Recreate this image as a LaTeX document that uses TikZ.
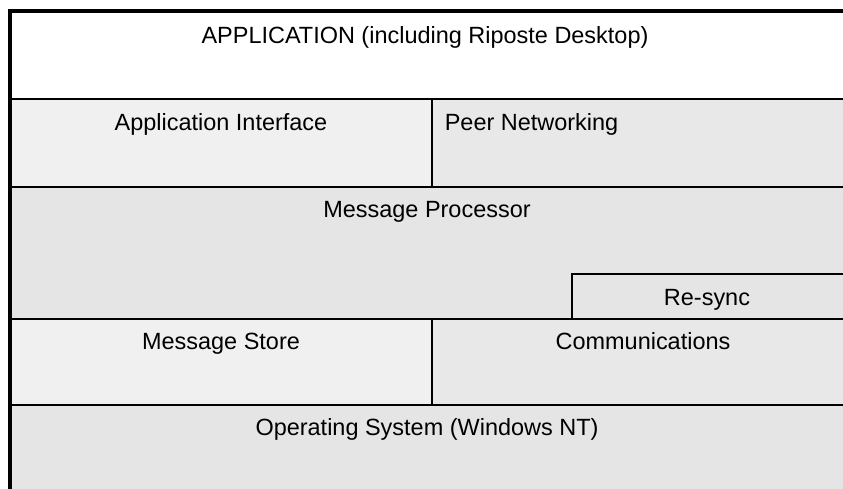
\documentclass[tikz,border=0pt]{standalone}
\usepackage{fontspec}
\setmainfont{Liberation Sans}
\usetikzlibrary{positioning}
\tikzset{
    every picture/.style={line width=1.2pt},
    layer/.style={draw=black,fill=black!10},
    plain/.style={draw=black,fill=white},
    chequer/.style={draw=black,fill=black!6},
    speckle/.style={draw=black,fill=black!9},
    lbl/.style={anchor=base,inner sep=0pt,font=\fontsize{17.6}{20}\selectfont}
}

\begin{document}
\begin{tikzpicture}[x=0.75pt,y=-0.75pt]
    \useasboundingbox (0,0) rectangle (843,489);
    \clip (0,0) rectangle (843,489);

    % layers, top to bottom
    \draw[plain] (10,11) rectangle (870,99);
    \draw[chequer] (10,99) rectangle (432,187);
    \draw[speckle] (432,99) rectangle (870,187);
    \draw[layer] (10,187) rectangle (870,319);
    \draw[layer] (572,274) rectangle (870,319);
    \draw[chequer] (10,319) rectangle (432,405);
    \draw[speckle] (432,319) rectangle (870,405);
    \draw[layer] (10,405) rectangle (870,510);

    % heavier outer frame
    \draw[line width=2.4pt] (10,510) -- (10,11) -- (870,11);

    % labels
    \node[lbl] (app) at (425,43) {APPLICATION (including Riposte Desktop)};
    \node[lbl] (apiface) at (221,130) {Application Interface};
    \node[lbl,anchor=base west] (peer) at (444,130) {Peer Networking};
    \node[lbl] (msgproc) at (427,217) {Message Processor};
    \node[lbl] (resync) at (707,305) {Re-sync};
    \node[lbl] (msgstore) at (221,349) {Message Store};
    \node[lbl] (comms) at (643,349) {Communications};
    \node[lbl] (opsys) at (427,435) {Operating System (Windows NT)};
\end{tikzpicture}
\end{document}
